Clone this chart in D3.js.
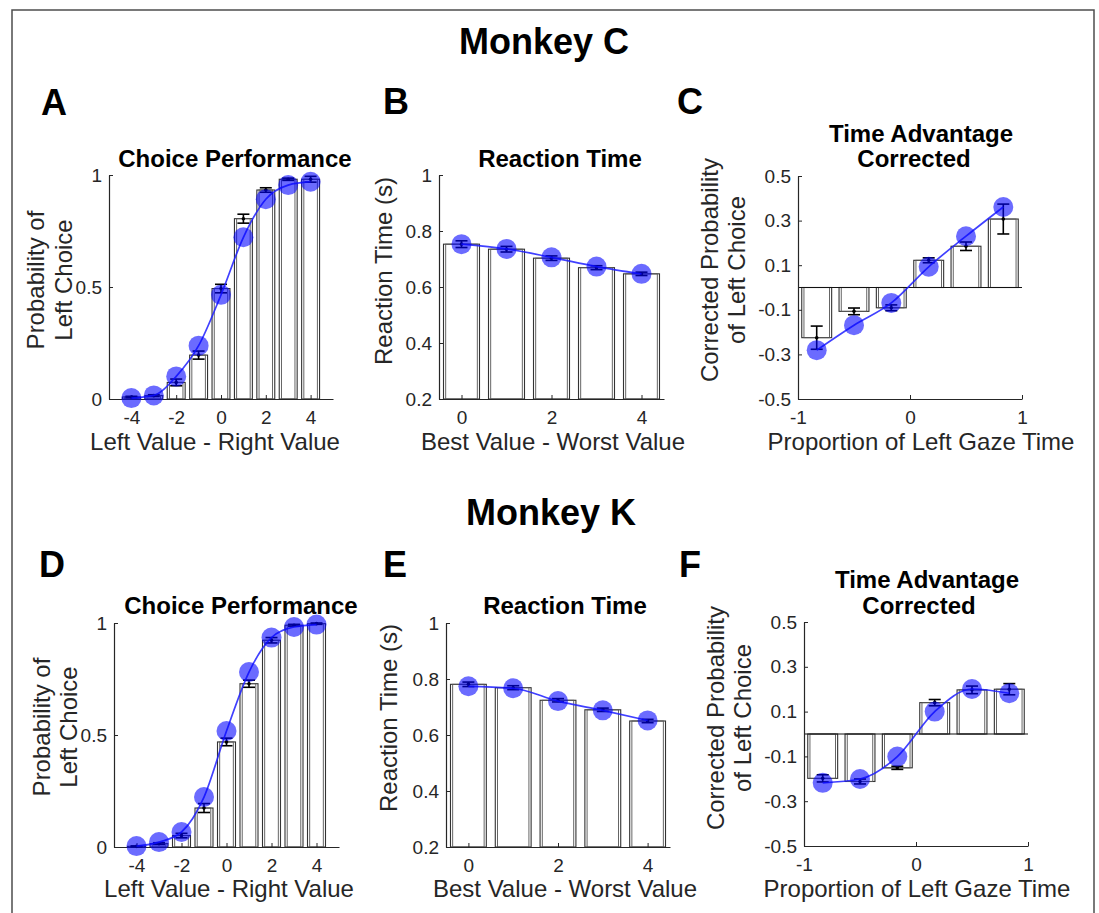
<!DOCTYPE html>
<html>
<head>
<meta charset="utf-8">
<script src="https://cdn.jsdelivr.net/npm/d3@7"></script>
<style>
  html, body { margin: 0; padding: 0; background: #fff; }
  svg { display: block; font-family: "Liberation Sans", Arial, sans-serif; }
</style>
</head>
<body>
<svg id="fig" width="1099" height="913"></svg>
<script>
(function(){
"use strict";

// ---- data ----
const valueDiffs = [-4, -3, -2, -1, 0, 1, 2, 3, 4];
const bestWorst = [0, 1, 2, 3, 4];
const gazeBins = [-0.833, -0.5, -0.167, 0.167, 0.5, 0.833];

// Monkey C
const choiceCBar = [0.009, 0.015, 0.074, 0.196, 0.493, 0.805, 0.933, 0.981, 0.981];
const choiceCErr = [0.003, 0.004, 0.015, 0.018, 0.019, 0.020, 0.010, 0.005, 0.013];
const choiceCFit = [0.004, 0.016, 0.101, 0.238, 0.465, 0.722, 0.892, 0.955, 0.970];

const rtCBar = [0.753, 0.735, 0.703, 0.669, 0.647];
const rtCErr = [0.012, 0.010, 0.008, 0.007, 0.006];
const rtCFit = [0.753, 0.736, 0.706, 0.673, 0.647];

const gazeCBar = [-0.225, -0.107, -0.091, 0.122, 0.185, 0.307];
const gazeCErr = [0.052, 0.015, 0.013, 0.011, 0.019, 0.067];
const gazeCFit = [-0.281, -0.169, -0.069, 0.093, 0.230, 0.361];

// Monkey K
const choiceKBar = [0.003, 0.015, 0.051, 0.174, 0.469, 0.729, 0.923, 0.990, 0.997];
const choiceKErr = [0.002, 0.004, 0.010, 0.020, 0.017, 0.016, 0.012, 0.004, 0.003];
const choiceKFit = [0.004, 0.022, 0.067, 0.223, 0.518, 0.781, 0.935, 0.982, 0.993];

const rtKBar = [0.781, 0.769, 0.724, 0.690, 0.650];
const rtKErr = [0.008, 0.007, 0.006, 0.006, 0.006];
const rtKFit = [0.774, 0.767, 0.721, 0.688, 0.652];

const gazeKBar = [-0.198, -0.212, -0.151, 0.140, 0.197, 0.200];
const gazeKErr = [0.016, 0.011, 0.007, 0.014, 0.017, 0.025];
const gazeKFit = [-0.218, -0.201, -0.101, 0.100, 0.201, 0.182];

// tick labels
const choiceXTicks = [-4, -2, 0, 2, 4];
const choiceYTicks = [0, 0.5, 1];
const rtXTicks = [0, 2, 4];
const rtYTicks = [0.2, 0.4, 0.6, 0.8, 1];
const gazeXTicks = [-1, 0, 1];
const gazeYTicks = [-0.5, -0.3, -0.1, 0.1, 0.3, 0.5];

const svg = d3.select("#fig");
const TXT = "#262626";

// outer frame
svg.append("path")
  .attr("d", "M12,913V10H1094V913")
  .attr("fill", "none").attr("stroke", "#4d4d4d").attr("stroke-width", 1.5);

function label(x, y, text, size, bold, anchor, rot){
  let t = svg.append("text")
    .attr("x", x).attr("y", y)
    .attr("font-size", size)
    .attr("font-weight", bold ? "bold" : "normal")
    .attr("fill", bold ? "#000" : TXT)
    .attr("text-anchor", anchor || "middle")
    .text(text);
  if(rot) t.attr("transform", "rotate(-90," + x + "," + y + ")");
  return t;
}

function drawPanel(p){
  let x = d3.scaleLinear().domain(p.xDomain).range([p.x0, p.x1]);
  let y = d3.scaleLinear().domain(p.yDomain).range([p.y1, p.y0]);
  let g = svg.append("g");
  let base = y(Math.max(p.yDomain[0], 0));
  let bw = Math.abs(x(p.barWidth) - x(0));

  let rows = p.cats.map((c, i) => ({c, bar: p.bar[i], err: p.err[i], fit: p.fit[i]}));

  // bars: drawn as a double outline like the original
  let bars = g.append("g").selectAll("g").data(rows).enter().append("g");
  bars.append("rect")
    .attr("x", d => x(d.c) - bw/2)
    .attr("y", d => Math.min(y(d.bar), base))
    .attr("width", bw)
    .attr("height", d => Math.abs(y(d.bar) - base))
    .attr("fill", "#fff").attr("stroke", "#333").attr("stroke-width", 1.1);
  bars.append("rect")
    .attr("x", d => x(d.c) - bw/2 + 2.2)
    .attr("y", d => Math.min(y(d.bar), base))
    .attr("width", bw - 4.4)
    .attr("height", d => Math.abs(y(d.bar) - base))
    .attr("fill", "none").attr("stroke", "#555").attr("stroke-width", 0.9);

  if(p.zeroLine){
    g.append("line")
      .attr("x1", p.x0).attr("x2", p.x1)
      .attr("y1", y(0)).attr("y2", y(0))
      .attr("stroke", "#111").attr("stroke-width", 1.2);
  }

  // axes
  let xAxis = d3.axisBottom(x).tickValues(p.xTicks).tickFormat(d => String(d))
    .tickSizeInner(-4).tickSizeOuter(0).tickPadding(12);
  let yAxis = d3.axisLeft(y).tickValues(p.yTicks).tickFormat(d => String(d))
    .tickSizeInner(-4).tickSizeOuter(0).tickPadding(7);
  let ax = g.append("g").attr("transform", "translate(0," + p.y1 + ")").call(xAxis);
  let ay = g.append("g").attr("transform", "translate(" + p.x0 + ",0)").call(yAxis);
  [ax, ay].forEach(a => {
    a.select(".domain").attr("stroke", TXT).attr("stroke-width", 1.2);
    a.selectAll(".tick line").attr("stroke", TXT).attr("stroke-width", 1);
    a.selectAll(".tick text").attr("fill", TXT).attr("font-size", 19)
      .attr("font-family", "Liberation Sans, Arial, sans-serif");
  });

  // error bars
  let eb = g.append("g").attr("stroke", "#000").attr("stroke-width", 1.6);
  rows.forEach(d => {
    let cx = x(d.c), lo = y(d.bar - d.err), hi = y(d.bar + d.err);
    eb.append("line").attr("x1", cx).attr("x2", cx).attr("y1", lo).attr("y2", hi);
    eb.append("line").attr("x1", cx - 6).attr("x2", cx + 6).attr("y1", lo).attr("y2", lo);
    eb.append("line").attr("x1", cx - 6).attr("x2", cx + 6).attr("y1", hi).attr("y2", hi);
    g.append("circle").attr("cx", cx).attr("cy", y(d.bar)).attr("r", 1.8).attr("fill", "#000");
  });

  // blue line and points
  let line = d3.line().x(d => x(d.c)).y(d => y(d.fit)).curve(d3.curveMonotoneX);
  g.append("path").datum(rows).attr("d", line)
    .attr("fill", "none").attr("stroke", "#1f1fff").attr("stroke-width", 1.7)
    .attr("stroke-opacity", 0.85);
  g.append("g").selectAll("circle").data(rows).enter().append("circle")
    .attr("cx", d => x(d.c)).attr("cy", d => y(d.fit)).attr("r", 10)
    .attr("fill", "#0000ff").attr("fill-opacity", 0.58);

  // texts
  p.title.forEach((t, i) => label(p.titleX[i], p.titleY[i], t, 24, true));
  p.ylabel.forEach((t, i) => label(p.ylabelX[i], p.ylabelY, t, 24, false, "middle", true));
  label(p.xlabelX, p.xlabelY, p.xlabel, 24, false);
  label(p.letterX, p.letterY, p.letter, 36, true, "start");
}

const panels = [
  {letter: "A", letterX: 41, letterY: 115,
   x0: 109, x1: 333, y0: 175, y1: 399, xDomain: [-5, 5], yDomain: [0, 1], barWidth: 0.8,
   cats: valueDiffs, bar: choiceCBar, err: choiceCErr, fit: choiceCFit,
   xTicks: choiceXTicks, yTicks: choiceYTicks,
   title: ["Choice Performance"], titleX: [235], titleY: [167],
   ylabel: ["Probability of", "Left Choice"], ylabelX: [44, 72], ylabelY: 280,
   xlabel: "Left Value - Right Value", xlabelX: 215, xlabelY: 450},
  {letter: "B", letterX: 383, letterY: 114,
   x0: 439, x1: 664, y0: 175, y1: 399, xDomain: [-0.5, 4.5], yDomain: [0.2, 1], barWidth: 0.8,
   cats: bestWorst, bar: rtCBar, err: rtCErr, fit: rtCFit,
   xTicks: rtXTicks, yTicks: rtYTicks,
   title: ["Reaction Time"], titleX: [560], titleY: [167],
   ylabel: ["Reaction Time (s)"], ylabelX: [392], ylabelY: 271,
   xlabel: "Best Value - Worst Value", xlabelX: 553, xlabelY: 450},
  {letter: "C", letterX: 677, letterY: 114,
   x0: 798, x1: 1022, y0: 176, y1: 399, xDomain: [-1, 1], yDomain: [-0.5, 0.5], barWidth: 0.267,
   cats: gazeBins, bar: gazeCBar, err: gazeCErr, fit: gazeCFit, zeroLine: true,
   xTicks: gazeXTicks, yTicks: gazeYTicks,
   title: ["Time Advantage", "Corrected"], titleX: [921, 914], titleY: [142, 167],
   ylabel: ["Corrected Probability", "of Left Choice"], ylabelX: [718, 745], ylabelY: 270,
   xlabel: "Proportion of Left Gaze Time", xlabelX: 921, xlabelY: 450},
  {letter: "D", letterX: 39, letterY: 577,
   x0: 114, x1: 339, y0: 623, y1: 847, xDomain: [-5, 5], yDomain: [0, 1], barWidth: 0.8,
   cats: valueDiffs, bar: choiceKBar, err: choiceKErr, fit: choiceKFit,
   xTicks: choiceXTicks, yTicks: choiceYTicks,
   title: ["Choice Performance"], titleX: [241], titleY: [614],
   ylabel: ["Probability of", "Left Choice"], ylabelX: [50, 77], ylabelY: 727,
   xlabel: "Left Value - Right Value", xlabelX: 229, xlabelY: 897},
  {letter: "E", letterX: 383, letterY: 577,
   x0: 446, x1: 670, y0: 623, y1: 847, xDomain: [-0.5, 4.5], yDomain: [0.2, 1], barWidth: 0.8,
   cats: bestWorst, bar: rtKBar, err: rtKErr, fit: rtKFit,
   xTicks: rtXTicks, yTicks: rtYTicks,
   title: ["Reaction Time"], titleX: [565], titleY: [614],
   ylabel: ["Reaction Time (s)"], ylabelX: [397], ylabelY: 718,
   xlabel: "Best Value - Worst Value", xlabelX: 565, xlabelY: 897},
  {letter: "F", letterX: 679, letterY: 577,
   x0: 804, x1: 1028, y0: 622, y1: 846, xDomain: [-1, 1], yDomain: [-0.5, 0.5], barWidth: 0.267,
   cats: gazeBins, bar: gazeKBar, err: gazeKErr, fit: gazeKFit, zeroLine: true,
   xTicks: gazeXTicks, yTicks: gazeYTicks,
   title: ["Time Advantage", "Corrected"], titleX: [927, 919], titleY: [588, 614],
   ylabel: ["Corrected Probability", "of Left Choice"], ylabelX: [724, 751], ylabelY: 718,
   xlabel: "Proportion of Left Gaze Time", xlabelX: 917, xlabelY: 897}
];

panels.forEach(drawPanel);

label(544, 54, "Monkey C", 36, true);
label(551, 525, "Monkey K", 36, true);

})();
</script>
</body>
</html>
